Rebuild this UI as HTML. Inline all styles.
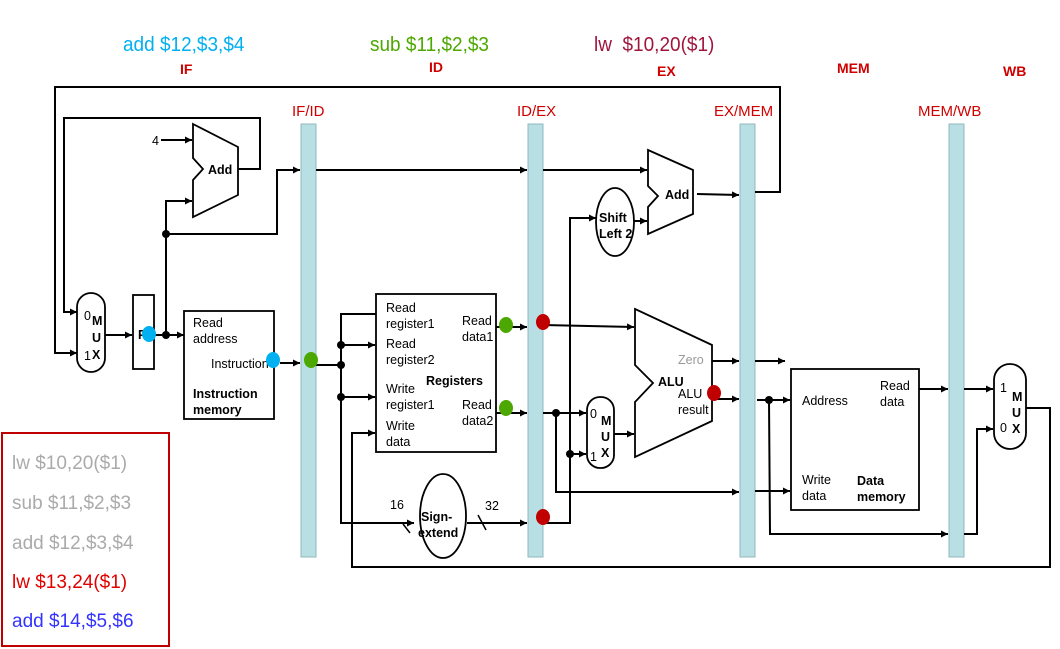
<!DOCTYPE html>
<html><head><meta charset="utf-8"><style>
html,body{margin:0;padding:0;background:#fff}
svg{display:block}
text{font-family:"Liberation Sans",sans-serif}
</style></head><body>
<svg width="1060" height="649" viewBox="0 0 1060 649" xmlns="http://www.w3.org/2000/svg">
<defs>
<marker id="a" viewBox="0 0 10 10" refX="10" refY="5" markerWidth="7" markerHeight="7" orient="auto" markerUnits="userSpaceOnUse"><path d="M0,0L10,5L0,10z" fill="#000"/></marker>
</defs>
<!-- top labels -->
<text x="123" y="51" font-size="20" fill="#00b0f0" transform="translate(123,0) scale(0.95,1) translate(-123,0)">add $12,$3,$4</text>
<text x="370" y="51" font-size="20" fill="#4ca800" transform="translate(370,0) scale(0.95,1) translate(-370,0)">sub $11,$2,$3</text>
<text x="594" y="51" font-size="20" fill="#a0153e" xml:space="preserve" transform="translate(594,0) scale(0.95,1) translate(-594,0)">lw  $10,20($1)</text>
<g font-size="14" font-weight="bold" fill="#d00000">
<text x="180" y="74">IF</text><text x="429" y="72">ID</text><text x="657" y="76">EX</text><text x="837" y="73">MEM</text><text x="1003" y="76">WB</text>
</g>
<g font-size="15" fill="#d00000">
<text x="292" y="116">IF/ID</text><text x="517" y="116">ID/EX</text><text x="714" y="116">EX/MEM</text><text x="918" y="116">MEM/WB</text>
</g>
<!-- pipeline regs -->
<g fill="#b8dfe3" stroke="#8fb8bd" stroke-width="1">
<rect x="301" y="124" width="15" height="433"/><rect x="528" y="124" width="15" height="433"/>
<rect x="740" y="124" width="15" height="433"/><rect x="949" y="124" width="15" height="433"/>
</g>
<g stroke="#000" stroke-width="2" fill="none">
<polyline points="755,192 780,192 780,87 55,87 55,353 77,353" marker-end="url(#a)"/>
<polyline points="238,169 260,169 260,118 64,118 64,312 77,312" marker-end="url(#a)"/>
<line x1="161" y1="140" x2="192" y2="140" marker-end="url(#a)"/>
<polyline points="166,335 166,201 192,201" marker-end="url(#a)"/>
<polyline points="166,234 277,234 277,170 300,170" marker-end="url(#a)"/>
<line x1="316" y1="170" x2="527" y2="170" marker-end="url(#a)"/>
<line x1="543" y1="170" x2="647" y2="170" marker-end="url(#a)"/>
<line x1="105" y1="335" x2="132" y2="335" marker-end="url(#a)"/>
<line x1="154" y1="335" x2="184" y2="335" marker-end="url(#a)"/>
<line x1="280" y1="363" x2="300" y2="363" marker-end="url(#a)"/>
<line x1="316" y1="365" x2="341" y2="365"/>
<polyline points="380,314 341,314 341,523 414,523" marker-end="url(#a)"/>
<line x1="341" y1="345" x2="375" y2="345" marker-end="url(#a)"/>
<line x1="341" y1="397" x2="375" y2="397" marker-end="url(#a)"/>
<polyline points="1026,408 1050,408 1050,567 352,567 352,433 375,433" marker-end="url(#a)"/>
<line x1="496" y1="327" x2="527" y2="327" marker-end="url(#a)"/>
<line x1="496" y1="413" x2="527" y2="413" marker-end="url(#a)"/>
<line x1="467" y1="523" x2="527" y2="523" marker-end="url(#a)"/>
<line x1="543" y1="325" x2="634" y2="327" marker-end="url(#a)"/>
<polyline points="543,523 570,523 570,218 596,218" marker-end="url(#a)"/>
<line x1="570" y1="454" x2="586" y2="454" marker-end="url(#a)"/>
<line x1="543" y1="413" x2="586" y2="413" marker-end="url(#a)"/>
<polyline points="556,413 556,492 739,492" marker-end="url(#a)"/>
<line x1="755" y1="491" x2="790" y2="491" marker-end="url(#a)"/>
<line x1="614" y1="434" x2="634" y2="434" marker-end="url(#a)"/>
<line x1="634" y1="221" x2="647" y2="221" marker-end="url(#a)"/>
<line x1="697" y1="194" x2="739" y2="195" marker-end="url(#a)"/>
<line x1="712" y1="361" x2="739" y2="361" marker-end="url(#a)"/>
<line x1="755" y1="361" x2="785" y2="361" marker-end="url(#a)"/>
<line x1="714" y1="399" x2="739" y2="399" marker-end="url(#a)"/>
<line x1="757" y1="400" x2="790" y2="400" marker-end="url(#a)"/>
<polyline points="769,400 770,534 948,534" marker-end="url(#a)"/>
<line x1="919" y1="389" x2="948" y2="389" marker-end="url(#a)"/>
<line x1="964" y1="389" x2="993" y2="389" marker-end="url(#a)"/>
<polyline points="964,534 977,534 977,429 993,429" marker-end="url(#a)"/>
<line x1="403" y1="524" x2="410" y2="533" stroke-width="1.5"/>
<line x1="478" y1="515" x2="486" y2="530" stroke-width="1.5"/>
</g>
<g fill="#000">
<circle cx="166" cy="234" r="4"/><circle cx="166" cy="335" r="4"/>
<circle cx="341" cy="345" r="4"/><circle cx="341" cy="365" r="4"/><circle cx="341" cy="397" r="4"/>
<circle cx="556" cy="413" r="4"/><circle cx="570" cy="454" r="4"/><circle cx="769" cy="400" r="4"/>
</g>
<g stroke="#000" stroke-width="1.8" fill="#fff">
<polygon points="193,124 238,147 238,195 193,217 193,180 203,169 193,158"/>
<polygon points="648,150 693,170 693,214 648,234 648,207 658,196 648,186"/>
<polygon points="635,309 712,345 712,421 635,457 635,402 653,383 635,365"/>
<rect x="77" y="293" width="28" height="79" rx="14"/>
<rect x="133" y="295" width="21" height="74"/>
<rect x="184" y="311" width="90" height="108"/>
<rect x="376" y="294" width="120" height="158"/>
<ellipse cx="443" cy="516" rx="23" ry="42"/>
<ellipse cx="615" cy="222" rx="19" ry="34"/>
<rect x="587" y="397" width="27" height="71" rx="13"/>
<rect x="791" y="369" width="128" height="141"/>
<rect x="994" y="364" width="32" height="85" rx="16"/>
</g>
<g font-size="12.5" fill="#000">
<text x="152" y="145">4</text>
<text x="84" y="320">0</text><text x="84" y="360">1</text>
<text x="193" y="327">Read</text><text x="193" y="343">address</text>
<text x="211" y="368">Instruction</text>
<text x="386" y="312">Read</text><text x="386" y="328">register1</text>
<text x="386" y="348">Read</text><text x="386" y="364">register2</text>
<text x="386" y="393">Write</text><text x="386" y="409">register1</text>
<text x="386" y="430">Write</text><text x="386" y="446">data</text>
<text x="462" y="325">Read</text><text x="462" y="341">data1</text>
<text x="462" y="409">Read</text><text x="462" y="425">data2</text>
<text x="390" y="509">16</text><text x="485" y="510">32</text>
<text x="590" y="418">0</text><text x="590" y="461">1</text>
<text x="678" y="364" fill="#999">Zero</text>
<text x="678" y="398">ALU</text><text x="678" y="414">result</text>
<text x="802" y="405">Address</text>
<text x="880" y="390">Read</text><text x="880" y="406">data</text>
<text x="802" y="484">Write</text><text x="802" y="500">data</text>
<text x="1000" y="392">1</text><text x="1000" y="432">0</text>
</g>
<g font-size="12.5" font-weight="bold" fill="#000">
<text x="92" y="325">M</text><text x="92" y="342">U</text><text x="92" y="359">X</text>
<text x="138" y="339">P</text>
<text x="208" y="174">Add</text><text x="665" y="199">Add</text>
<text x="193" y="398">Instruction</text><text x="193" y="414">memory</text>
<text x="426" y="385">Registers</text>
<text x="421" y="521">Sign-</text><text x="418" y="537">extend</text>
<text x="599" y="222">Shift</text><text x="599" y="238">Left 2</text>
<text x="658" y="386">ALU</text>
<text x="601" y="425">M</text><text x="601" y="441">U</text><text x="601" y="457">X</text>
<text x="857" y="485">Data</text><text x="857" y="501">memory</text>
<text x="1012" y="401">M</text><text x="1012" y="417">U</text><text x="1012" y="433">X</text>
</g>
<g fill="#00b0f0"><ellipse cx="149" cy="334" rx="7" ry="8"/><ellipse cx="273" cy="360" rx="7" ry="8"/></g>
<g fill="#4ca800"><ellipse cx="311" cy="360" rx="7" ry="8"/><ellipse cx="506" cy="325" rx="7" ry="8"/><ellipse cx="506" cy="408" rx="7" ry="8"/></g>
<g fill="#c00000"><ellipse cx="543" cy="322" rx="7" ry="8"/><ellipse cx="543" cy="517" rx="7" ry="8"/><ellipse cx="714" cy="393" rx="7" ry="8"/></g>
<rect x="2" y="433" width="167" height="213" fill="#fff" stroke="#c00000" stroke-width="2"/>
<g font-size="19" xml:space="preserve">
<text x="12" y="469" fill="#aaa">lw  $10,20($1)</text>
<text x="12" y="509" fill="#aaa">sub $11,$2,$3</text>
<text x="12" y="549" fill="#aaa">add $12,$3,$4</text>
<text x="12" y="588" fill="#e00000">lw  $13,24($1)</text>
<text x="12" y="627" fill="#3333ff">add $14,$5,$6</text>
</g>
</svg>
</body></html>
